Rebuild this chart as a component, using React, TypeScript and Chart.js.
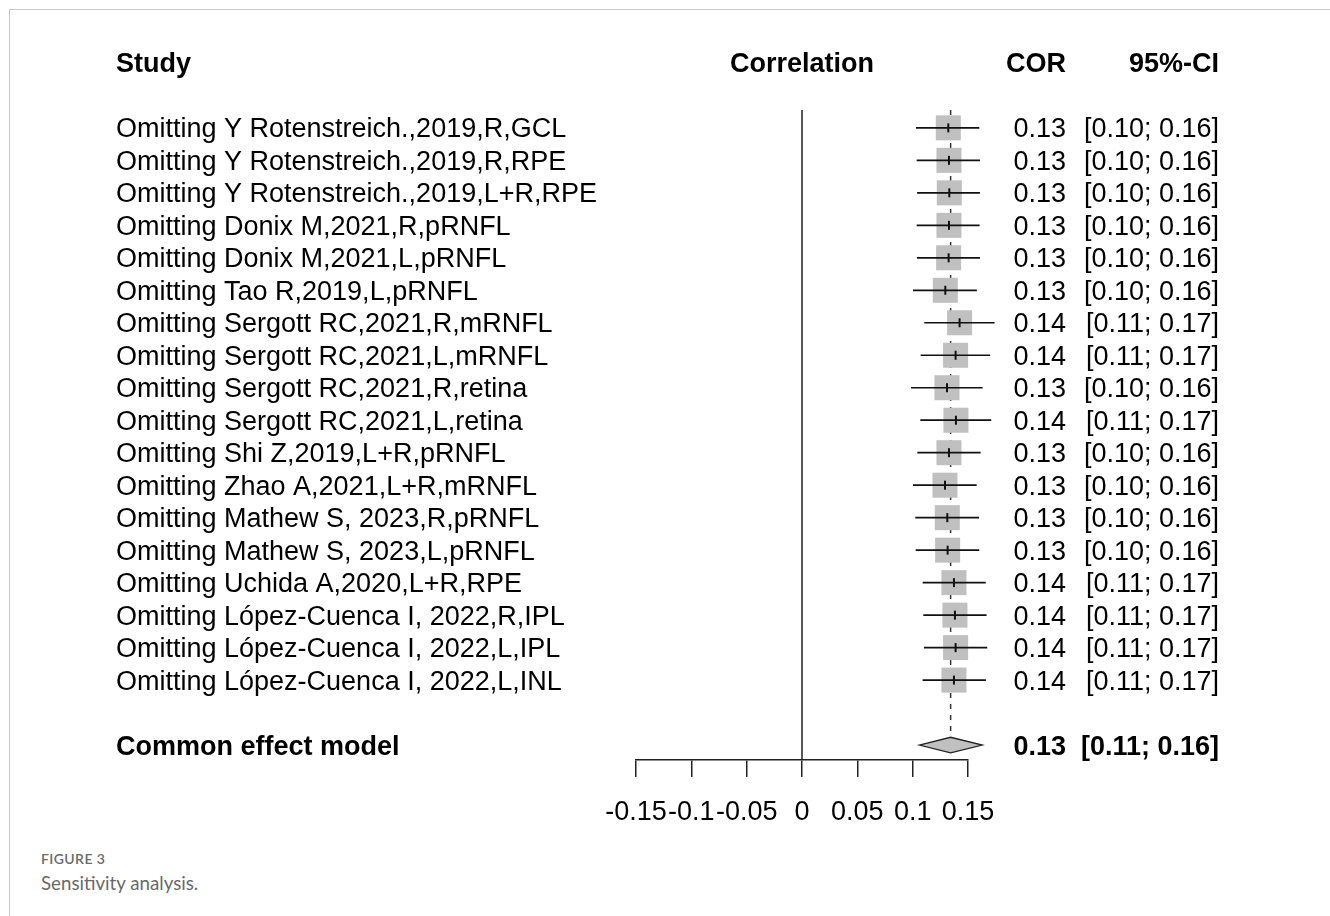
import React, { useEffect, useRef } from "react";
import { Chart, registerables } from "chart.js";

Chart.register(...registerables);

const STUDIES = [
  "Omitting Y Rotenstreich.,2019,R,GCL",
  "Omitting Y Rotenstreich.,2019,R,RPE",
  "Omitting Y Rotenstreich.,2019,L+R,RPE",
  "Omitting Donix M,2021,R,pRNFL",
  "Omitting Donix M,2021,L,pRNFL",
  "Omitting Tao R,2019,L,pRNFL",
  "Omitting Sergott RC,2021,R,mRNFL",
  "Omitting Sergott RC,2021,L,mRNFL",
  "Omitting Sergott RC,2021,R,retina",
  "Omitting Sergott RC,2021,L,retina",
  "Omitting Shi Z,2019,L+R,pRNFL",
  "Omitting Zhao A,2021,L+R,mRNFL",
  "Omitting Mathew S, 2023,R,pRNFL",
  "Omitting Mathew S, 2023,L,pRNFL",
  "Omitting Uchida A,2020,L+R,RPE",
  "Omitting López-Cuenca I, 2022,R,IPL",
  "Omitting López-Cuenca I, 2022,L,IPL",
  "Omitting López-Cuenca I, 2022,L,INL",
];
const ROWS = STUDIES.map((_, i) => i + 1);

const COR = [
  0.1322, 0.1328, 0.1331, 0.1328, 0.1325, 0.1295, 0.1424, 0.1388, 0.131,
  0.1391, 0.1328, 0.1292, 0.1313, 0.1316, 0.1373, 0.1382, 0.1388, 0.1373,
];
const CI_LOW = [
  0.103, 0.1036, 0.104, 0.1036, 0.1039, 0.1003, 0.1105, 0.1072, 0.0985,
  0.1069, 0.1042, 0.1003, 0.1024, 0.1027, 0.109, 0.1096, 0.1102, 0.109,
];
const CI_HIGH = [
  0.1602, 0.1608, 0.1608, 0.1605, 0.1608, 0.158, 0.174, 0.17, 0.1632,
  0.171, 0.1614, 0.1578, 0.16, 0.1602, 0.166, 0.1668, 0.1674, 0.1662,
];
const COR_LABELS = [
  "0.13", "0.13", "0.13", "0.13", "0.13", "0.13", "0.14", "0.14", "0.13",
  "0.14", "0.13", "0.13", "0.13", "0.13", "0.14", "0.14", "0.14", "0.14",
];
const CI_LABELS = [
  "[0.10; 0.16]", "[0.10; 0.16]", "[0.10; 0.16]", "[0.10; 0.16]",
  "[0.10; 0.16]", "[0.10; 0.16]", "[0.11; 0.17]", "[0.11; 0.17]",
  "[0.10; 0.16]", "[0.11; 0.17]", "[0.10; 0.16]", "[0.10; 0.16]",
  "[0.10; 0.16]", "[0.10; 0.16]", "[0.11; 0.17]", "[0.11; 0.17]",
  "[0.11; 0.17]", "[0.11; 0.17]",
];

const POOLED_NAME = "Common effect model";
const POOLED_ROW = 20;
const POOLED = 0.1343;
const POOLED_LOW = 0.106;
const POOLED_HIGH = 0.1629;
const POOLED_COR_LABEL = "0.13";
const POOLED_CI_LABEL = "[0.11; 0.16]";

const HEADER_ROW = -1;
const HEADERS = ["Study", "Correlation", "COR", "95%-CI"];

const X_TICKS = [-0.15, -0.1, -0.05, 0, 0.05, 0.1, 0.15];
const X_TICK_LABELS = ["-0.15", "-0.1", "-0.05", "0", "0.05", "0.1", "0.15"];

const Y_TOP = 0.45;
const Y_BOTTOM = 20.46;
const DIAMOND_HALF = 0.24;

const FONT = '"Liberation Sans", Arial, Helvetica, sans-serif';
const FONT_SIZE = 27;
const TEXT_DY = 2;
const STUDY_X = 116;
const COR_RIGHT = 1066;
const CI_RIGHT = 1219;

const forestPlugin = {
  id: "forest",
  afterDatasetsDraw(chart: any) {
    const { ctx } = chart;
    const x = chart.scales.x;
    const y = chart.scales.y;
    ctx.save();
    ctx.strokeStyle = "#111";
    ROWS.forEach((r, i) => {
      const py = y.getPixelForValue(r);
      ctx.lineWidth = 1.7;
      ctx.beginPath();
      ctx.moveTo(x.getPixelForValue(CI_LOW[i]), py);
      ctx.lineTo(x.getPixelForValue(CI_HIGH[i]), py);
      ctx.stroke();
      const px = x.getPixelForValue(COR[i]);
      ctx.lineWidth = 2;
      ctx.beginPath();
      ctx.moveTo(px, py - 4.5);
      ctx.lineTo(px, py + 4.5);
      ctx.stroke();
    });
    const dy = y.getPixelForValue(POOLED_ROW);
    const dTop = y.getPixelForValue(POOLED_ROW - DIAMOND_HALF);
    const dBot = y.getPixelForValue(POOLED_ROW + DIAMOND_HALF);
    ctx.beginPath();
    ctx.moveTo(x.getPixelForValue(POOLED_LOW), dy);
    ctx.lineTo(x.getPixelForValue(POOLED), dTop);
    ctx.lineTo(x.getPixelForValue(POOLED_HIGH), dy);
    ctx.lineTo(x.getPixelForValue(POOLED), dBot);
    ctx.closePath();
    ctx.fillStyle = "#c0c0c0";
    ctx.fill();
    ctx.lineWidth = 1.3;
    ctx.strokeStyle = "#222";
    ctx.stroke();
    ctx.restore();
  },
  afterDraw(chart: any) {
    const { ctx } = chart;
    const x = chart.scales.x;
    const y = chart.scales.y;
    ctx.save();
    ctx.fillStyle = "#000";
    ctx.textBaseline = "middle";
    const hy = y.getPixelForValue(HEADER_ROW) + TEXT_DY;
    ctx.font = `bold ${FONT_SIZE}px ${FONT}`;
    ctx.textAlign = "left";
    ctx.fillText(HEADERS[0], STUDY_X, hy);
    ctx.textAlign = "center";
    ctx.fillText(HEADERS[1], x.getPixelForValue(0), hy);
    ctx.textAlign = "right";
    ctx.fillText(HEADERS[2], COR_RIGHT, hy);
    ctx.fillText(HEADERS[3], CI_RIGHT, hy);

    ctx.font = `${FONT_SIZE}px ${FONT}`;
    ROWS.forEach((r, i) => {
      const py = y.getPixelForValue(r) + TEXT_DY;
      ctx.textAlign = "left";
      ctx.fillText(STUDIES[i], STUDY_X, py);
      ctx.textAlign = "right";
      ctx.fillText(COR_LABELS[i], COR_RIGHT, py);
      ctx.fillText(CI_LABELS[i], CI_RIGHT, py);
    });

    const sy = y.getPixelForValue(POOLED_ROW) + TEXT_DY;
    ctx.font = `bold ${FONT_SIZE}px ${FONT}`;
    ctx.textAlign = "left";
    ctx.fillText(POOLED_NAME, STUDY_X, sy);
    ctx.textAlign = "right";
    ctx.fillText(POOLED_COR_LABEL, COR_RIGHT, sy);
    ctx.fillText(POOLED_CI_LABEL, CI_RIGHT, sy);
    ctx.restore();
  },
};

export default function App() {
  const ref = useRef<HTMLCanvasElement>(null);

  useEffect(() => {
    const canvas = ref.current;
    if (!canvas) return;
    const chart = new Chart(canvas, {
      type: "scatter",
      data: {
        datasets: [
          {
            label: "studies",
            data: ROWS.map((r, i) => ({ x: COR[i], y: r })),
            pointStyle: "rect",
            pointRadius: 17.7,
            pointHoverRadius: 17.7,
            pointBackgroundColor: "#c0c0c0",
            pointBorderWidth: 0,
            showLine: false,
            clip: false,
            order: 1,
          } as any,
          {
            label: "pooled",
            data: [
              { x: POOLED, y: Y_TOP },
              { x: POOLED, y: POOLED_ROW - DIAMOND_HALF },
            ],
            showLine: true,
            borderColor: "#333",
            borderWidth: 1.5,
            borderDash: [5, 6],
            pointRadius: 0,
            clip: false,
            order: 2,
          } as any,
          {
            label: "zero",
            data: [
              { x: 0, y: Y_TOP },
              { x: 0, y: Y_BOTTOM },
            ],
            showLine: true,
            borderColor: "#222",
            borderWidth: 1.5,
            pointRadius: 0,
            clip: false,
            order: 3,
          } as any,
        ],
      },
      options: {
        animation: false,
        responsive: false,
        maintainAspectRatio: false,
        devicePixelRatio: 1,
        events: [],
        layout: { padding: { top: 110, left: 636, right: 362, bottom: 0 } },
        plugins: {
          legend: { display: false },
          tooltip: { enabled: false },
        },
        scales: {
          x: {
            type: "linear",
            min: -0.15,
            max: 0.15,
            afterBuildTicks: (axis: any) => {
              axis.ticks = X_TICKS.map((v) => ({ value: v }));
            },
            afterFit: (axis: any) => {
              axis.height = 90;
            },
            grid: {
              drawOnChartArea: false,
              drawTicks: true,
              tickLength: 17,
              color: "#222",
              lineWidth: 1.5,
            },
            border: { display: true, color: "#222", width: 1.5 },
            ticks: {
              color: "#000",
              font: { family: FONT, size: FONT_SIZE },
              padding: 19,
              maxRotation: 0,
              minRotation: 0,
              autoSkip: false,
              callback: (_v: any, i: number) => X_TICK_LABELS[i],
            },
          },
          y: {
            type: "linear",
            min: Y_TOP,
            max: Y_BOTTOM,
            reverse: true,
            display: false,
          },
        },
      },
      plugins: [forestPlugin],
    });
    return () => chart.destroy();
  }, []);

  return (
    <div
      style={{
        position: "fixed",
        left: 0,
        top: 0,
        width: 1330,
        height: 916,
        background: "#fff",
        overflow: "hidden",
      }}
    >
      <div
        style={{
          position: "absolute",
          left: 9,
          top: 9,
          width: 1330,
          height: 920,
          borderTop: "1px solid #c8c8c8",
          borderLeft: "1px solid #c8c8c8",
        }}
      />
      <canvas
        ref={ref}
        width={1330}
        height={850}
        style={{ position: "absolute", left: 0, top: 0, width: 1330, height: 850 }}
      />
      <div
        style={{
          position: "absolute",
          left: 41,
          top: 850,
          font: "600 14px Lato, 'Open Sans', sans-serif",
          color: "#6a6a6a",
          letterSpacing: 0.4,
          lineHeight: "17px",
        }}
      >
        FIGURE 3
      </div>
      <div
        style={{
          position: "absolute",
          left: 41,
          top: 872,
          font: "18.7px Lato, 'Open Sans', sans-serif",
          color: "#6a6a6a",
          lineHeight: "22px",
        }}
      >
        Sensitivity analysis.
      </div>
    </div>
  );
}
